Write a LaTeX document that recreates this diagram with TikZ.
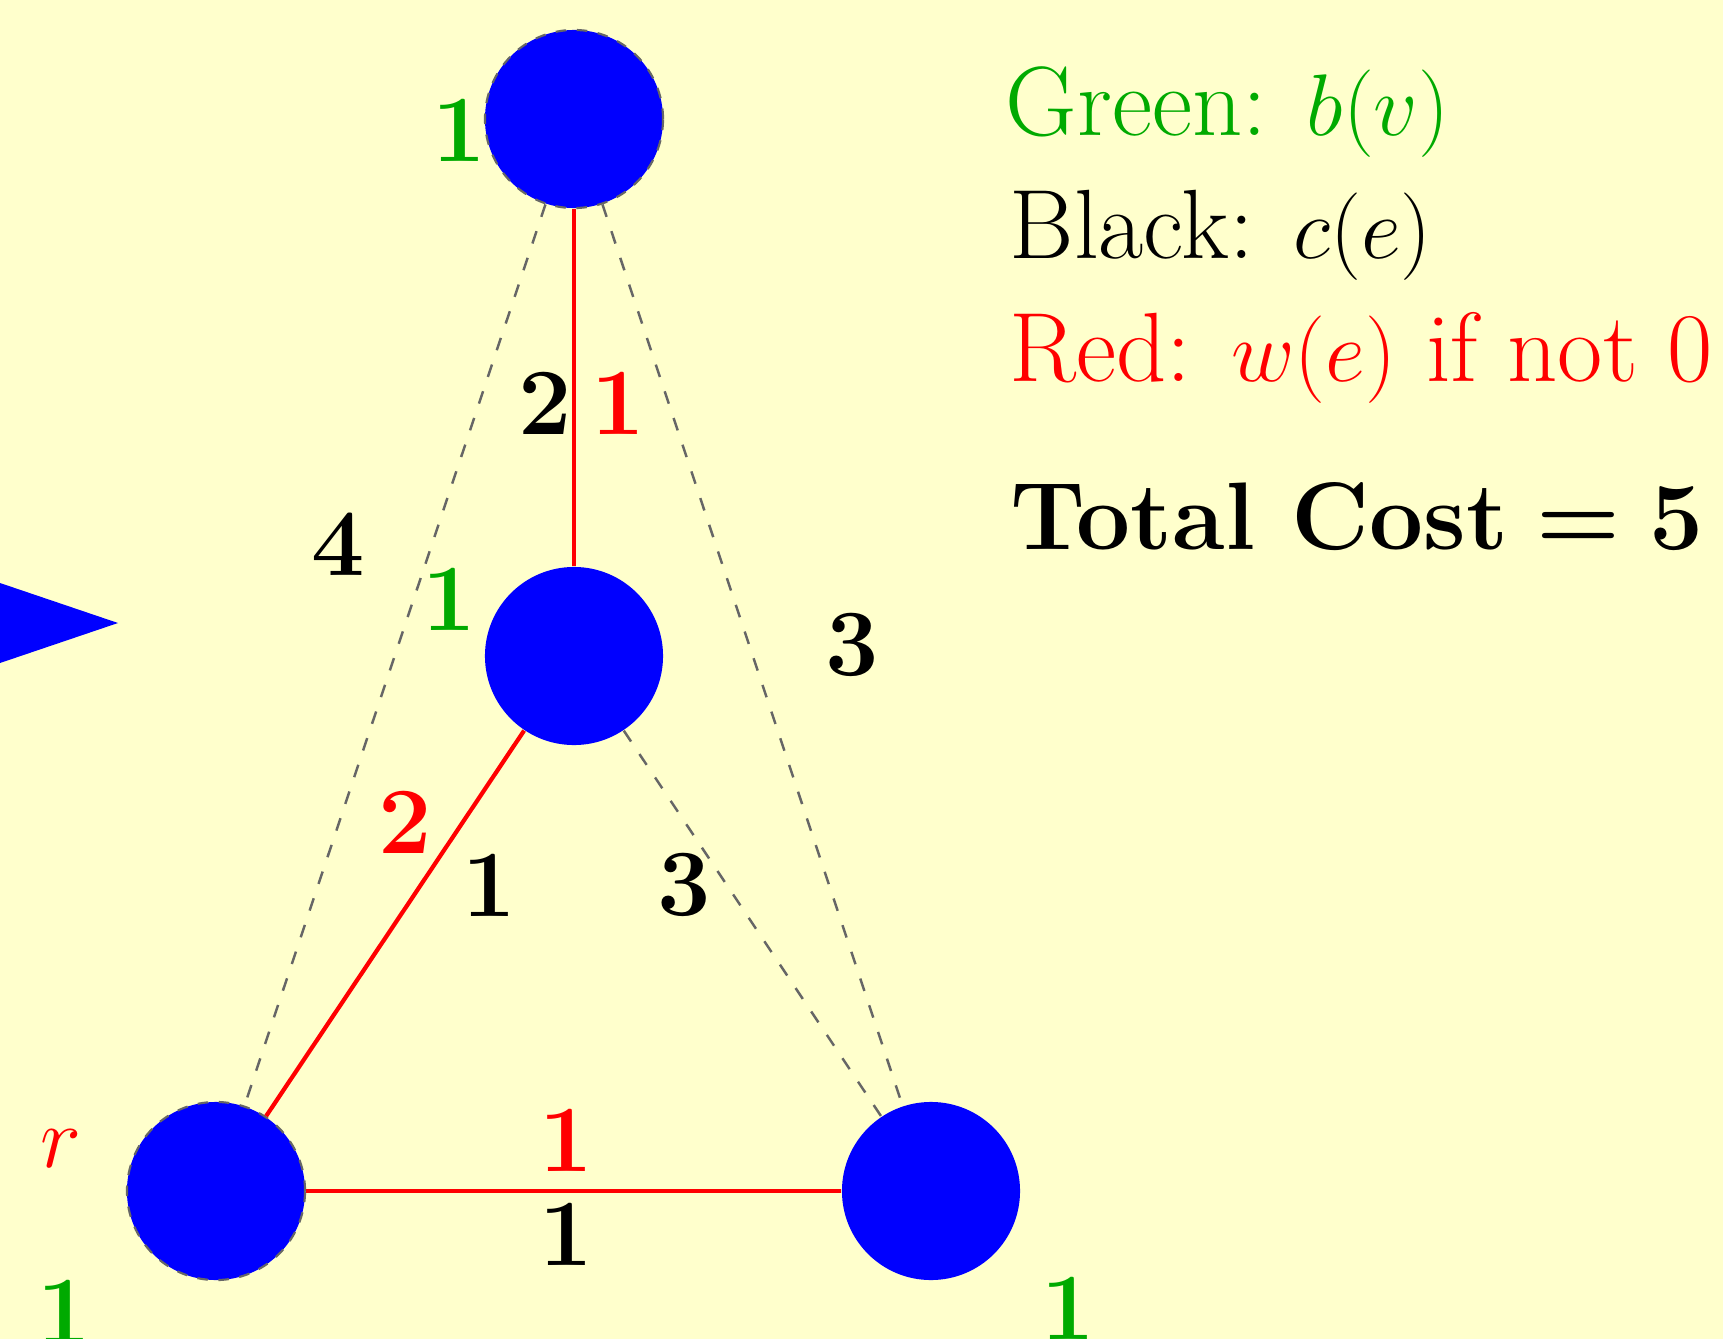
\documentclass[tikz,border=0pt]{standalone}
\usepackage{xcolor}
\usepackage{tikz}
\usetikzlibrary{calc}
\definecolor{paper}{RGB}{255,255,204}
\definecolor{bgreen}{RGB}{0,170,0}

\begin{document}
\begin{tikzpicture}[
  x=0.01cm, y=-0.01cm,
  vertex/.style={circle, fill=blue, inner sep=0pt, minimum size=1.78cm},
  rimmed/.style={draw=black!60, dashed, line width=0.6pt},
  tree/.style={draw=red, line width=1.2pt},
  spare/.style={draw=black!60, line width=0.7pt, dash pattern=on 3.7pt off 4.3pt},
  num/.style={inner sep=0pt, font=\fontsize{27}{32}\selectfont\bfseries},
  bval/.style={num, text=bgreen},
  wval/.style={num, text=red},
  legend/.style={anchor=base west, inner sep=0pt, font=\fontsize{28}{33}\selectfont}
]
  \fill[paper] (0,0) rectangle (1723,1339);
  \useasboundingbox (0,0) rectangle (1723,1339);

  \fill[blue] (0,583) -- (118,623) -- (0,663) -- cycle;

  \node[vertex, rimmed] (vtop) at (574,119) {};
  \node[vertex] (vmid) at (574,656) {};
  \node[vertex, rimmed] (vroot) at (216,1191) {};
  \node[vertex] (vright) at (931,1191) {};

  \draw[spare] (vtop) -- (vroot);
  \draw[spare] (vtop) -- (vright);
  \draw[spare] (vmid) -- (vright);
  \draw[tree] (vtop) -- (vmid);
  \draw[tree] (vmid) -- (vroot);
  \draw[tree] (vroot) -- (vright);

  \node[bval] (btop) at (459,130) {1};
  \node[bval] (bmid) at (449,599) {1};
  \node[bval] (broot) at (64,1311) {1};
  \node[bval] (bright) at (1068,1308) {1};

  \node[num] (ctm) at (545,403) {2};
  \node[wval] (wtm) at (618,403) {1};
  \node[num] (ctr) at (338,544) {4};
  \node[num] (ctg) at (852,645) {3};
  \node[wval] (wmr) at (405,822) {2};
  \node[num] (cmr) at (489,885) {1};
  \node[num] (cmg) at (684,885) {3};
  \node[wval] (wrg) at (566,1140) {1};
  \node[num] (crg) at (566,1234) {1};
  \node[text=red, inner sep=0pt, font=\fontsize{28}{33}\selectfont] (rlabel) at (61,1149) {$r$};

  \node[legend, text=bgreen] (lgreen) at (1005,135) {Green: $b(v)$};
  \node[legend] (lblack) at (1009,258) {Black: $c(e)$};
  \node[legend, text=red] (lred) at (1009,381) {Red: $w(e)$ if not 0};
  \node[legend, font=\fontsize{27.3}{32}\selectfont\bfseries] (ltotal) at (1010,549) {Total Cost\kern0.3em=\kern0.3em5};
\end{tikzpicture}
\end{document}
